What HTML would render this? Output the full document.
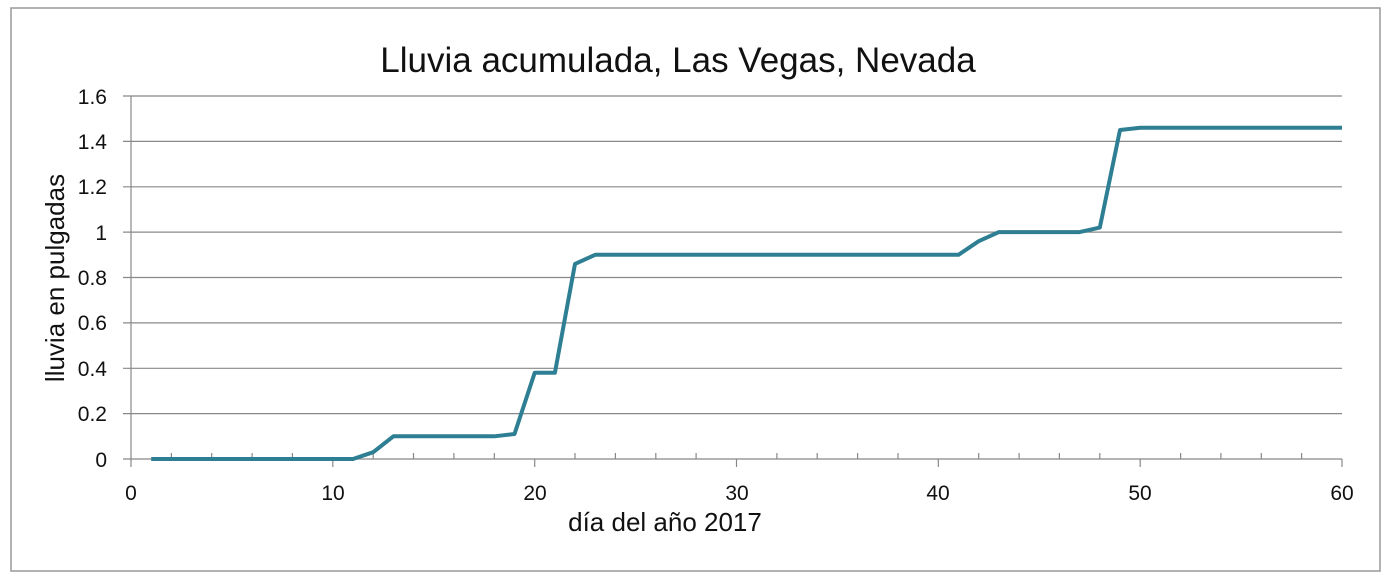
<!DOCTYPE html>
<html><head><meta charset="utf-8"><style>body{margin:0;background:#fff}</style></head><body>
<svg width="1386" height="581" xmlns="http://www.w3.org/2000/svg" font-family="'Liberation Sans',sans-serif">
<rect x="11" y="8" width="1369" height="563" fill="#fff" stroke="#999" stroke-width="1.5"/>
<text x="678" y="72" font-size="35" text-anchor="middle" fill="#111">Lluvia acumulada, Las Vegas, Nevada</text>
<g stroke="#888" stroke-width="1.2">
<line x1="123" y1="96" x2="1342" y2="96"/>
<line x1="123" y1="141.4" x2="1342" y2="141.4"/>
<line x1="123" y1="186.8" x2="1342" y2="186.8"/>
<line x1="123" y1="232.1" x2="1342" y2="232.1"/>
<line x1="123" y1="277.5" x2="1342" y2="277.5"/>
<line x1="123" y1="322.9" x2="1342" y2="322.9"/>
<line x1="123" y1="368.3" x2="1342" y2="368.3"/>
<line x1="123" y1="413.6" x2="1342" y2="413.6"/>
<line x1="123" y1="459" x2="1342" y2="459"/>
<line x1="131" y1="96" x2="131" y2="467"/>
<line x1="332.8" y1="459" x2="332.8" y2="467"/>
<line x1="534.7" y1="459" x2="534.7" y2="467"/>
<line x1="736.5" y1="459" x2="736.5" y2="467"/>
<line x1="938.3" y1="459" x2="938.3" y2="467"/>
<line x1="1140.2" y1="459" x2="1140.2" y2="467"/>
<line x1="1342" y1="459" x2="1342" y2="467"/>
<path d="M171.4 459v-6M211.7 459v-6M252.1 459v-6M292.4 459v-6M373.2 459v-6M413.5 459v-6M453.9 459v-6M494.3 459v-6M575 459v-6M615.4 459v-6M655.8 459v-6M696.1 459v-6M776.9 459v-6M817.2 459v-6M857.6 459v-6M898 459v-6M978.7 459v-6M1019.1 459v-6M1059.4 459v-6M1099.8 459v-6M1180.6 459v-6M1220.9 459v-6M1261.3 459v-6M1301.6 459v-6"/>
</g>
<g font-size="21" fill="#111" text-anchor="end">
<text x="107" y="104">1.6</text><text x="107" y="149">1.4</text><text x="107" y="194">1.2</text><text x="107" y="240">1</text><text x="107" y="285">0.8</text><text x="107" y="330">0.6</text><text x="107" y="376">0.4</text><text x="107" y="421">0.2</text><text x="107" y="467">0</text>
</g>
<g font-size="21" fill="#111" text-anchor="middle">
<text x="131" y="500">0</text><text x="333" y="500">10</text><text x="535" y="500">20</text><text x="737" y="500">30</text><text x="938" y="500">40</text><text x="1140" y="500">50</text><text x="1342" y="500">60</text>
<text x="665" y="531" font-size="26">día del año 2017</text>
<text transform="translate(64,278) rotate(-90)" font-size="26">lluvia en pulgadas</text>
</g>
<polyline fill="none" stroke="#2e7f93" stroke-width="4" stroke-linejoin="round" points="151.2,459 353,459 373.2,452.2 393.4,436.3 494.3,436.3 514.5,434 534.7,372.8 554.9,372.8 575,263.9 595.2,254.8 958.5,254.8 978.7,241.2 998.9,232.1 1079.6,232.1 1099.8,227.6 1120,130 1140.2,127.8 1342,127.8"/>
</svg>
</body></html>
